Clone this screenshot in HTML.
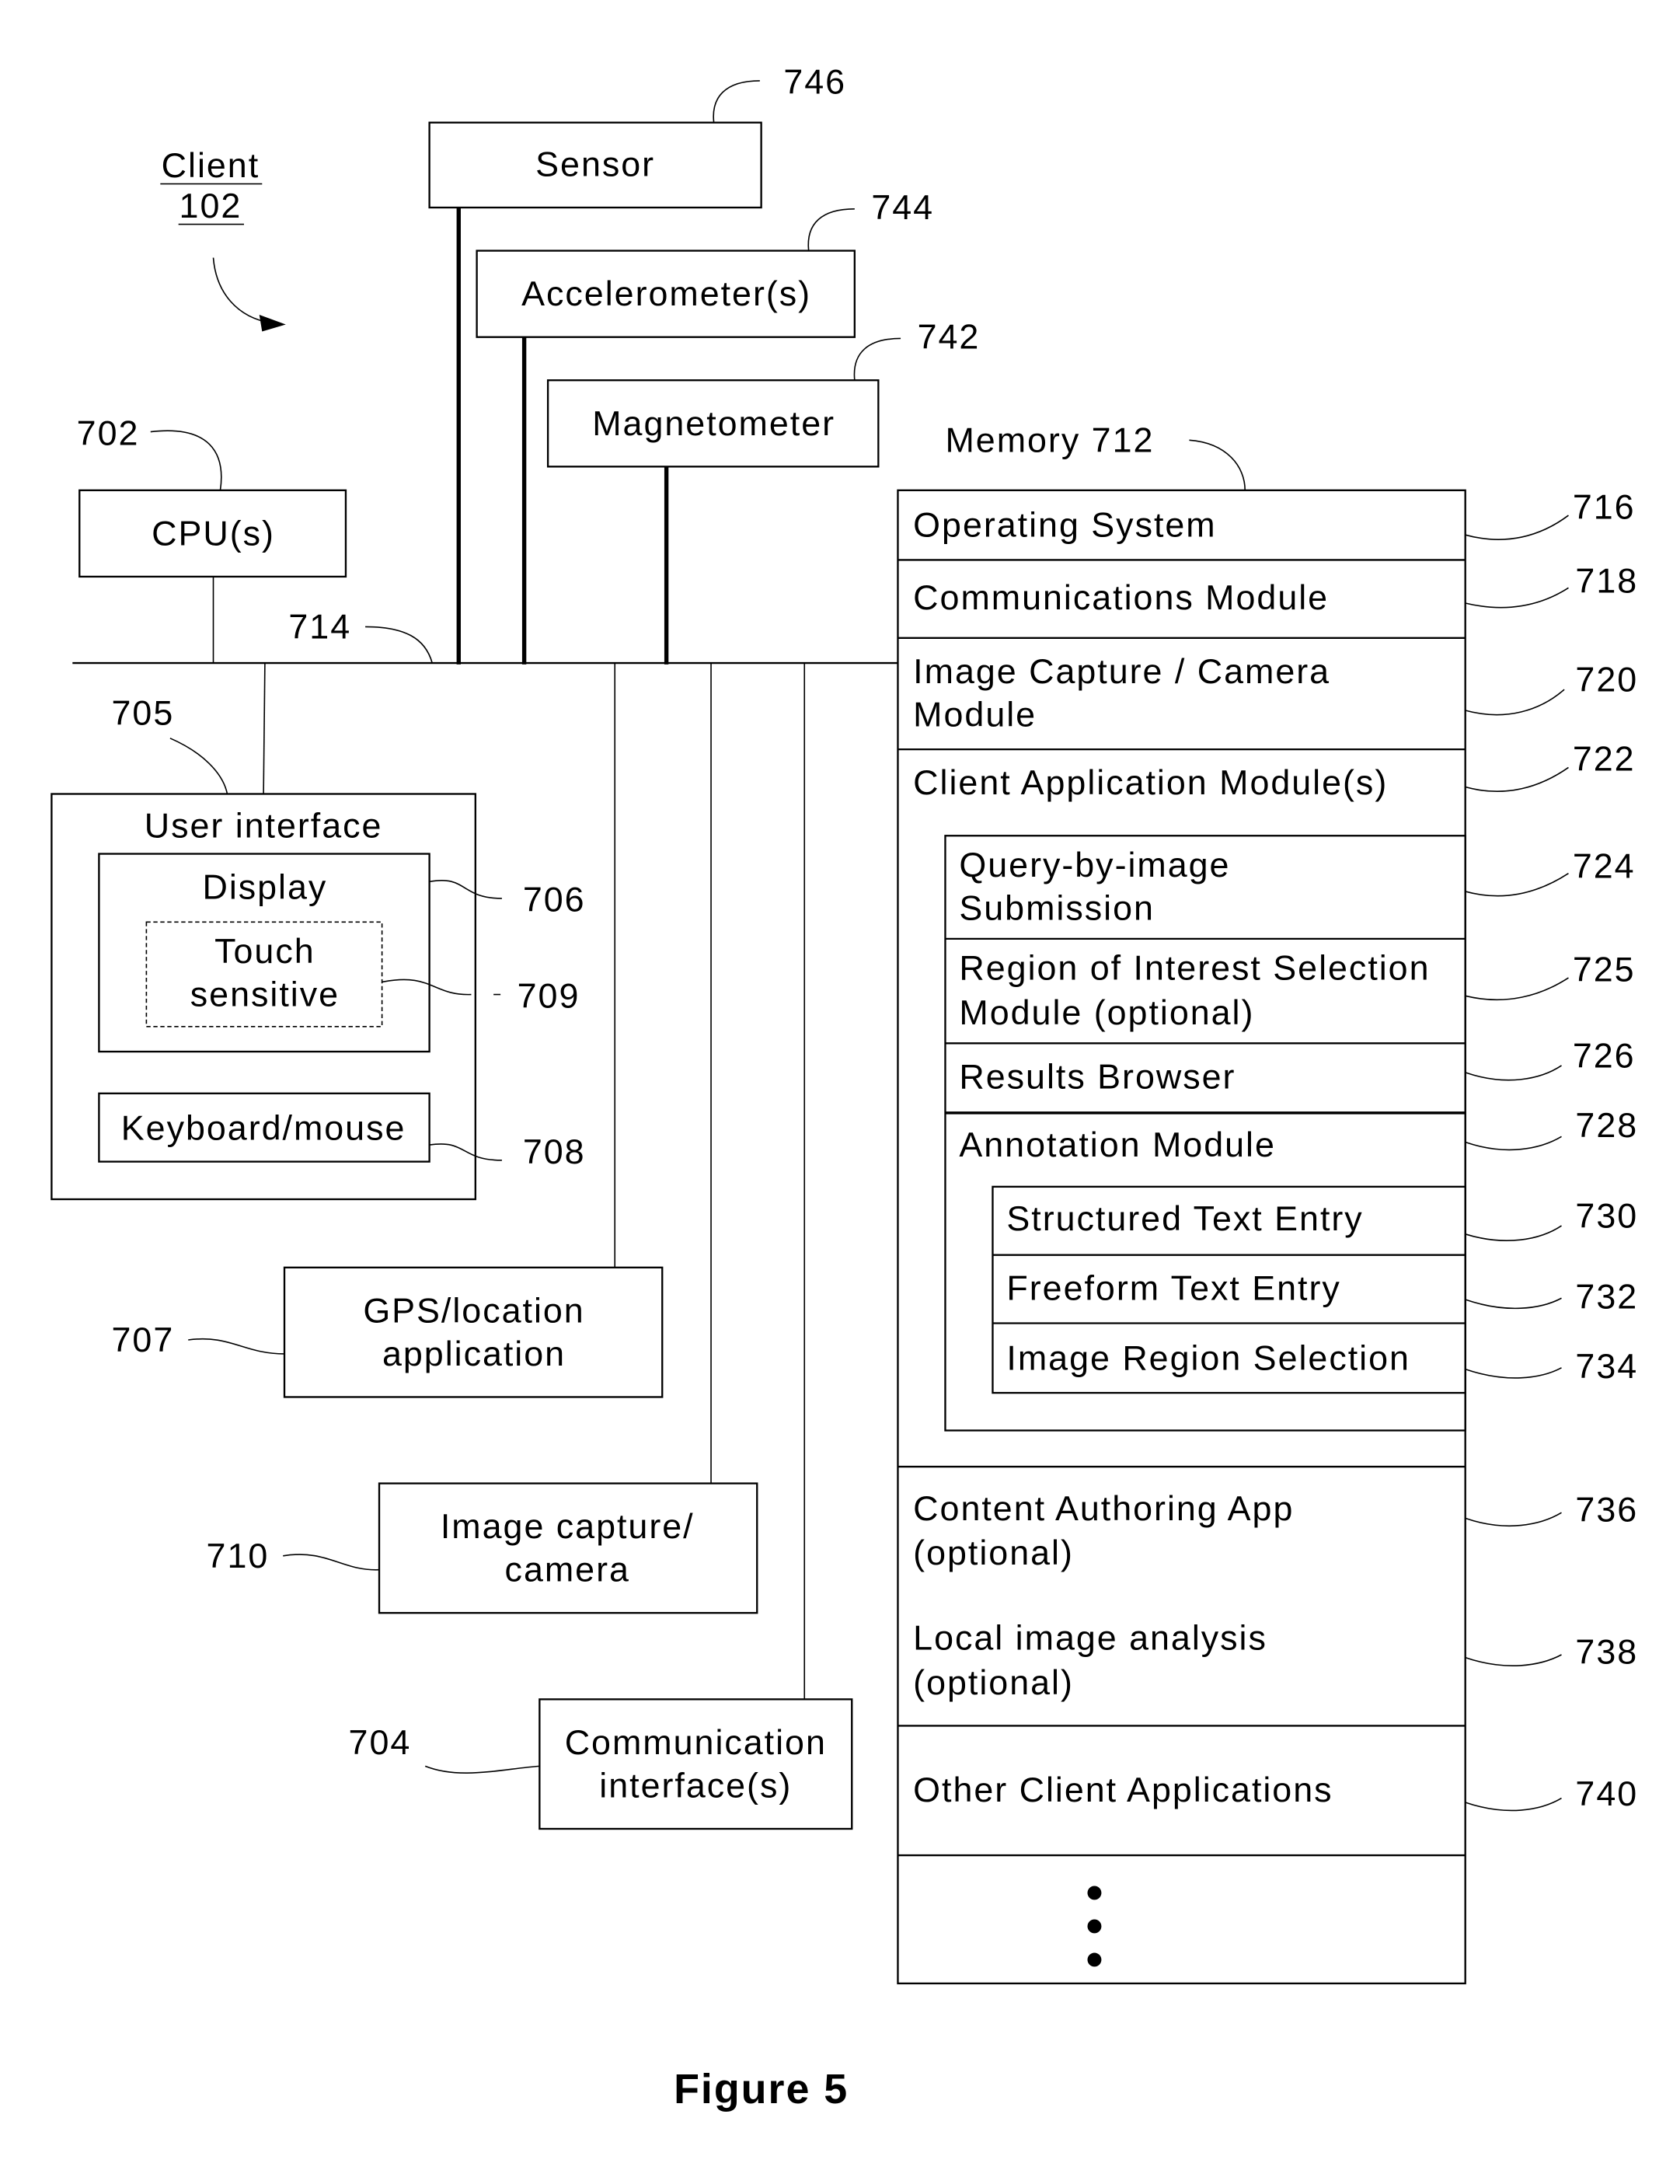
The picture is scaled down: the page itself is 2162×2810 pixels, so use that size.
<!DOCTYPE html>
<html><head><meta charset="utf-8"><style>
html,body{margin:0;padding:0;background:#fff;}
svg{display:block;}
text{font-family:"Liberation Sans",Arial,sans-serif;font-size:25px;fill:#000;dominant-baseline:central;letter-spacing:1.1px;}
.c{text-anchor:middle;}
.b{fill:none;stroke:#000;stroke-width:1.3;}
.t{fill:none;stroke:#000;stroke-width:0.9;}
.k{fill:none;stroke:#000;stroke-width:3;}
</style></head><body>
<svg width="2162" height="2810" viewBox="0 0 1205 1568" preserveAspectRatio="none" xmlns="http://www.w3.org/2000/svg">
<!-- top sensors -->
<rect class="b" x="308" y="88" width="238" height="61"/><text class="c" x="427" y="118">Sensor</text>
<text x="562" y="59">746</text><path class="t" d="M512 88 C510 70 520 58 545 58"/>
<rect class="b" x="342" y="180" width="271" height="62"/><text class="c" x="478" y="211">Accelerometer(s)</text>
<text x="625" y="149">744</text><path class="t" d="M580 180 C578 160 590 150 613 150"/>
<rect class="b" x="393" y="273" width="237" height="62"/><text class="c" x="512" y="304">Magnetometer</text>
<text x="658" y="242">742</text><path class="t" d="M613 273 C611 253 623 243 646 243"/>
<!-- client -->
<text class="c" x="151" y="119">Client</text><line class="t" x1="115" y1="132" x2="188" y2="132"/>
<text class="c" x="151" y="148">102</text><line class="t" x1="128" y1="161" x2="175" y2="161"/>
<path class="t" d="M153 185 C155 210 170 228 195 232"/><path d="M205 233 L186 226 L188 238 Z" fill="#000"/>
<!-- CPU -->
<text x="55" y="311">702</text><path class="t" d="M108 310 C150 305 162 325 158 352"/>
<rect class="b" x="57" y="352" width="191" height="62"/><text class="c" x="153" y="383">CPU(s)</text>
<!-- bus -->
<line class="b" x1="52" y1="476" x2="644" y2="476"/>
<line class="t" x1="153" y1="414" x2="153" y2="476"/>
<line class="k" x1="329" y1="149" x2="329" y2="477"/>
<line class="k" x1="376" y1="242" x2="376" y2="477"/>
<line class="k" x1="478" y1="335" x2="478" y2="477"/>
<text x="207" y="450">714</text><path class="t" d="M262 450 C290 450 305 458 310 476"/>
<line class="t" x1="190" y1="476" x2="189" y2="570"/>
<line class="t" x1="441" y1="476" x2="441" y2="910"/>
<line class="t" x1="510" y1="476" x2="510" y2="1065"/>
<line class="t" x1="577" y1="476" x2="577" y2="1220"/>
<!-- UI -->
<text x="80" y="512">705</text><path class="t" d="M122 530 C145 540 160 555 163 570"/>
<rect class="b" x="37" y="570" width="304" height="291"/><text class="c" x="189" y="593">User interface</text>
<rect class="b" x="71" y="613" width="237" height="142"/><text class="c" x="190" y="637">Display</text>
<rect x="105" y="662" width="169" height="75" fill="none" stroke="#000" stroke-width="0.9" stroke-dasharray="3,2"/>
<text class="c" x="190" y="683">Touch</text><text class="c" x="190" y="714">sensitive</text>
<rect class="b" x="71" y="785" width="237" height="49"/><text class="c" x="189" y="810">Keyboard/mouse</text>
<text x="375" y="646">706</text><path class="t" d="M308 633 C335 628 330 645 360 645"/>
<text x="371" y="715">709</text><path class="t" d="M274 705 C310 698 310 715 338 714"/><line class="t" x1="354" y1="714" x2="359" y2="714"/>
<text x="375" y="827">708</text><path class="t" d="M308 822 C335 818 330 833 360 833"/>
<!-- GPS etc -->
<rect class="b" x="204" y="910" width="271" height="93"/><text class="c" x="340" y="941">GPS/location</text><text class="c" x="340" y="972">application</text>
<text x="80" y="962">707</text><path class="t" d="M135 962 C165 958 175 972 204 972"/>
<rect class="b" x="272" y="1065" width="271" height="93"/><text class="c" x="407" y="1096">Image capture/</text><text class="c" x="407" y="1127">camera</text>
<text x="148" y="1117">710</text><path class="t" d="M203 1117 C235 1112 245 1128 272 1127"/>
<rect class="b" x="387" y="1220" width="224" height="93"/><text class="c" x="499" y="1251">Communication</text><text class="c" x="499" y="1282">interface(s)</text>
<text x="250" y="1251">704</text><path class="t" d="M305 1268 C330 1278 360 1270 387 1268"/>
<!-- memory -->
<text x="678" y="316">Memory 712</text><path class="t" d="M853 316 C880 318 893 335 893 352"/>
<rect class="b" x="644" y="352" width="407" height="1072"/>
<line class="b" x1="644" y1="402" x2="1051" y2="402"/>
<line class="b" x1="644" y1="458" x2="1051" y2="458"/>
<line class="b" x1="644" y1="538" x2="1051" y2="538"/>
<line class="b" x1="644" y1="1053" x2="1051" y2="1053"/>
<line class="b" x1="644" y1="1239" x2="1051" y2="1239"/>
<line class="b" x1="644" y1="1332" x2="1051" y2="1332"/>
<rect class="b" x="678" y="600" width="373" height="427"/>
<line class="b" x1="678" y1="674" x2="1051" y2="674"/>
<line class="b" x1="678" y1="749" x2="1051" y2="749"/>
<line x1="678" y1="799" x2="1051" y2="799" stroke="#000" stroke-width="2"/>
<rect class="b" x="712" y="852" width="339" height="148"/>
<line class="b" x1="712" y1="901" x2="1051" y2="901"/>
<line class="b" x1="712" y1="950" x2="1051" y2="950"/>
<text x="655" y="377">Operating System</text>
<text x="655" y="429">Communications Module</text>
<text x="655" y="482">Image Capture / Camera</text><text x="655" y="513">Module</text>
<text x="655" y="562">Client Application Module(s)</text>
<text x="688" y="621">Query-by-image</text><text x="688" y="652">Submission</text>
<text x="688" y="695">Region of Interest Selection</text><text x="688" y="727">Module (optional)</text>
<text x="688" y="773">Results Browser</text>
<text x="688" y="822">Annotation Module</text>
<text x="722" y="875">Structured Text Entry</text>
<text x="722" y="925">Freeform Text Entry</text>
<text x="722" y="975">Image Region Selection</text>
<text x="655" y="1083">Content Authoring App</text><text x="655" y="1115">(optional)</text>
<text x="655" y="1176">Local image analysis</text><text x="655" y="1208">(optional)</text>
<text x="655" y="1285">Other Client Applications</text>
<circle cx="785" cy="1359" r="5"/><circle cx="785" cy="1383" r="5"/><circle cx="785" cy="1407" r="5"/>
<!-- right labels -->
<g>
<text x="1128" y="364">716</text><path class="t" d="M1051 384 C1080 392 1105 385 1125 370"/>
<text x="1130" y="417">718</text><path class="t" d="M1051 433 C1080 440 1105 435 1125 422"/>
<text x="1130" y="488">720</text><path class="t" d="M1051 510 C1080 518 1105 510 1122 495"/>
<text x="1128" y="545">722</text><path class="t" d="M1051 565 C1080 573 1105 565 1125 551"/>
<text x="1128" y="622">724</text><path class="t" d="M1051 640 C1080 648 1105 640 1125 627"/>
<text x="1128" y="696">725</text><path class="t" d="M1051 715 C1080 722 1105 715 1125 702"/>
<text x="1128" y="758">726</text><path class="t" d="M1051 770 C1080 780 1105 775 1120 765"/>
<text x="1130" y="808">728</text><path class="t" d="M1051 820 C1080 830 1105 825 1120 816"/>
<text x="1130" y="873">730</text><path class="t" d="M1051 886 C1080 895 1105 890 1120 880"/>
<text x="1130" y="931">732</text><path class="t" d="M1051 933 C1080 943 1105 940 1120 932"/>
<text x="1130" y="981">734</text><path class="t" d="M1051 983 C1080 993 1105 990 1120 982"/>
<text x="1130" y="1084">736</text><path class="t" d="M1051 1090 C1080 1100 1105 1095 1120 1086"/>
<text x="1130" y="1186">738</text><path class="t" d="M1051 1190 C1080 1200 1105 1196 1120 1188"/>
<text x="1130" y="1288">740</text><path class="t" d="M1051 1294 C1080 1304 1105 1300 1120 1291"/>
</g>
<text class="c" x="546" y="1500" style="font-weight:bold;font-size:30px;">Figure 5</text>
</svg>
</body></html>
